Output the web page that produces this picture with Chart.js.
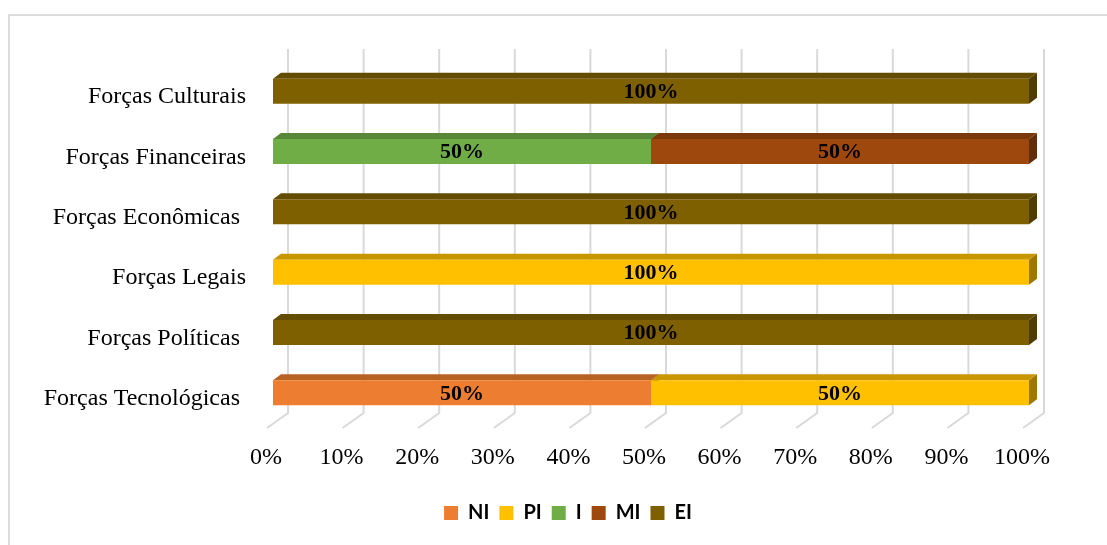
<!DOCTYPE html>
<html>
<head>
<meta charset="utf-8">
<script src="https://cdn.jsdelivr.net/npm/chart.js@4.4.1/dist/chart.umd.min.js"></script>
<style>
  html, body { margin: 0; padding: 0; background: #ffffff; overflow: hidden; }
  #wrap { position: relative; width: 1107px; height: 545px; }
  #frame { position: absolute; left: 8px; top: 14px; width: 1110px; height: 560px;
           border-top: 2px solid #dcdcdc; border-left: 2px solid #dcdcdc; box-sizing: border-box; }
  canvas { position: absolute; left: 0; top: 0; }
</style>
</head>
<body>
<div id="wrap">
  <div id="frame"></div>
  <canvas id="c" width="1107" height="545"></canvas>
</div>
<script>
const categories = ['Forças Culturais', 'Forças Financeiras', 'Forças Econômicas ', 'Forças Legais', 'Forças Políticas ', 'Forças Tecnológicas '];
const seriesNames = ['NI', 'PI', 'I', 'MI', 'EI'];
const NI = [0, 0, 0, 0, 0, 50];
const PI = [0, 0, 0, 100, 0, 50];
const I  = [0, 50, 0, 0, 0, 0];
const MI = [0, 50, 0, 0, 0, 0];
const EI = [100, 0, 100, 0, 100, 0];
const xTicks = [0, 10, 20, 30, 40, 50, 60, 70, 80, 90, 100];
const colors = ['#ED7D31', '#FFC000', '#70AD47', '#9E480E', '#7F6000'];

function shade(hex, f) {
  const n = parseInt(hex.slice(1), 16);
  const r = Math.round(((n >> 16) & 255) * f), g = Math.round(((n >> 8) & 255) * f), b = Math.round((n & 255) * f);
  return 'rgb(' + r + ',' + g + ',' + b + ')';
}

const DX = 8, DY = 6;

const threeD = {
  id: 'threeD',
  afterLayout(chart) {
    const lg = chart.legend;
    if (lg) { lg.left += 49.5; lg.right += 49.5; }
  },
  beforeDatasetsDraw(chart) {
    const ctx = chart.ctx, xs = chart.scales.x, area = chart.chartArea;
    ctx.save();
    ctx.strokeStyle = '#d9d9d9';
    ctx.lineWidth = 2;
    xTicks.forEach(v => {
      const xb = xs.getPixelForValue(v) + 15;
      ctx.beginPath();
      ctx.moveTo(xb, area.top - 12);
      ctx.lineTo(xb, area.bottom - 10);
      ctx.lineTo(xb - 21, area.bottom + 5);
      ctx.stroke();
    });
    ctx.restore();
    ctx.save();
    chart.data.datasets.forEach((ds, di) => {
      const meta = chart.getDatasetMeta(di);
      meta.data.forEach((bar, i) => {
        if (!ds.data[i]) return;
        const p = bar.getProps(['x', 'y', 'base', 'height'], true);
        const x0 = Math.min(p.base, p.x), x1 = Math.max(p.base, p.x);
        const yt = p.y - p.height / 2, yb = p.y + p.height / 2;
        ctx.fillStyle = shade(colors[di], 0.62);
        ctx.beginPath();
        ctx.moveTo(x1, yt); ctx.lineTo(x1 + DX, yt - DY); ctx.lineTo(x1 + DX, yb - DY); ctx.lineTo(x1, yb);
        ctx.closePath(); ctx.fill();
        ctx.fillStyle = shade(colors[di], 0.78);
        ctx.beginPath();
        ctx.moveTo(x0, yt); ctx.lineTo(x0 + DX, yt - DY); ctx.lineTo(x1 + DX, yt - DY); ctx.lineTo(x1, yt);
        ctx.closePath(); ctx.fill();
      });
    });
    ctx.restore();
  },
  afterDatasetsDraw(chart) {
    const ctx = chart.ctx;
    ctx.save();
    ctx.font = 'bold 22px "Liberation Serif", "Times New Roman", serif';
    ctx.fillStyle = '#000000';
    ctx.textAlign = 'center';
    ctx.textBaseline = 'middle';
    chart.data.datasets.forEach((ds, di) => {
      const meta = chart.getDatasetMeta(di);
      meta.data.forEach((bar, i) => {
        if (!ds.data[i]) return;
        const p = bar.getProps(['x', 'y', 'base'], true);
        ctx.fillText(ds.data[i] + '%', (p.x + p.base) / 2, p.y + 1);
      });
    });
    ctx.restore();
  }
};

const seriesData = [NI, PI, I, MI, EI];
new Chart(document.getElementById('c'), {
  type: 'bar',
  data: {
    labels: categories,
    datasets: seriesNames.map((name, k) => ({
      label: name,
      data: seriesData[k],
      backgroundColor: colors[k],
      borderWidth: 0,
      barPercentage: 0.415,
      categoryPercentage: 1
    }))
  },
  options: {
    indexAxis: 'y',
    responsive: false,
    animation: false,
    devicePixelRatio: 1,
    layout: { padding: { left: 8, right: 78, top: 61, bottom: 12 } },
    scales: {
      x: {
        stacked: true,
        min: 0, max: 100,
        afterBuildTicks(scale) { scale.ticks = xTicks.map(v => ({ value: v })); },
        afterFit(scale) { scale.height = 70; },
        grid: { display: false, drawTicks: false },
        border: { display: false },
        ticks: {
          padding: 20,
          labelOffset: -7,
          color: '#000000',
          font: { family: '"Liberation Serif", "Times New Roman", serif', size: 24 },
          callback: v => v + '%'
        }
      },
      y: {
        stacked: true,
        afterFit(scale) { scale.width = 265; },
        grid: { display: false, drawTicks: false },
        border: { display: false },
        ticks: {
          padding: 27,
          labelOffset: 6,
          color: '#000000',
          font: { family: '"Liberation Serif", "Times New Roman", serif', size: 24 }
        }
      }
    },
    plugins: {
      legend: {
        position: 'bottom',
        labels: {
          boxWidth: 14,
          boxHeight: 14,
          padding: 10,
          color: '#000000',
          font: { family: 'Lato, "Open Sans", sans-serif', size: 20, weight: 'bold' }
        }
      },
      tooltip: { enabled: false }
    }
  },
  plugins: [threeD]
});
</script>
</body>
</html>
